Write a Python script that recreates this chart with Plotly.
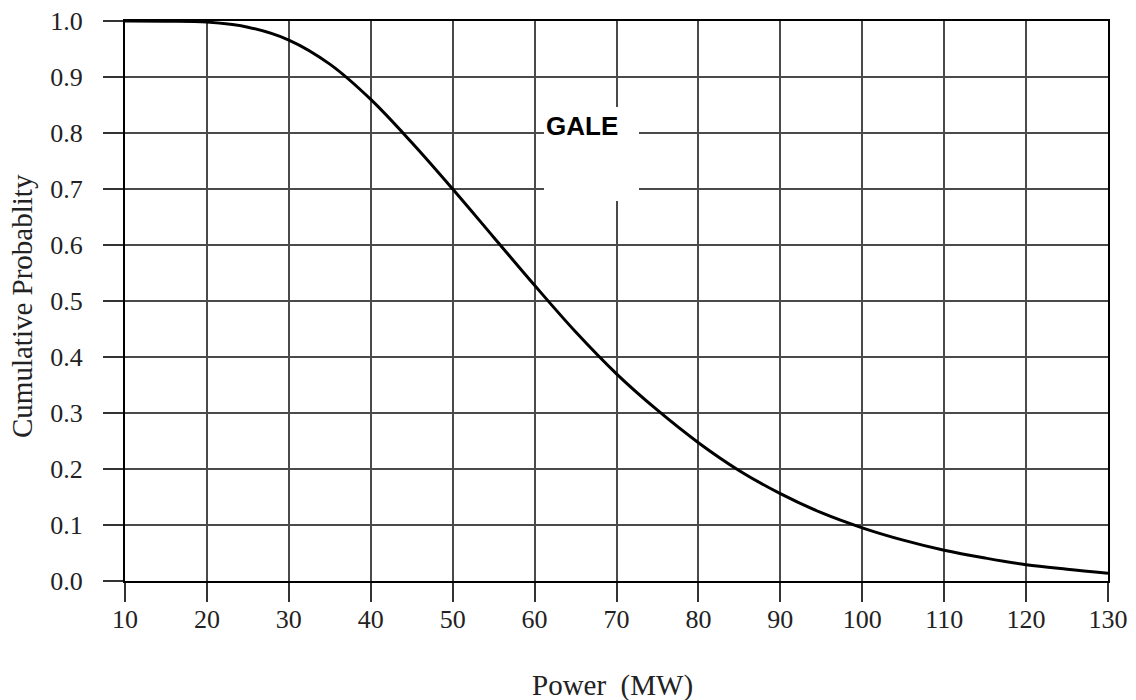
import plotly.graph_objects as go

power_mw = [10, 15, 20, 25, 30, 35, 40, 45, 50, 55, 60, 65, 70, 75, 80, 85, 90, 95, 100, 105, 110, 115, 120, 125, 130]
cum_prob = [1.0, 0.9997, 0.998, 0.989, 0.966, 0.923, 0.860, 0.783, 0.700, 0.614, 0.528, 0.445, 0.370, 0.305, 0.247, 0.197, 0.156, 0.122, 0.095, 0.073, 0.055, 0.041, 0.029, 0.021, 0.014]

x_ticks = list(range(10, 131, 10))
y_ticks = [round(i * 0.1, 1) for i in range(11)]
label_text = "GALE"

fig = go.Figure()
fig.add_trace(go.Scatter(x=power_mw, y=cum_prob, mode="lines",
                         line=dict(color="black", width=3, shape="spline", smoothing=1.0),
                         hoverinfo="skip", showlegend=False))

tick_font = dict(family="Liberation Serif, Times New Roman, serif", size=26, color="#222")
title_font = dict(family="Liberation Serif, Times New Roman, serif", size=29, color="#222")
fig.update_xaxes(range=[10, 130], tickvals=x_ticks, ticktext=[str(v) for v in x_ticks],
                 showgrid=True, gridcolor="#4a4a4a", gridwidth=1.5,
                 showline=True, linecolor="black", linewidth=2, mirror=True,
                 ticks="outside", ticklen=19, tickwidth=1.5, tickcolor="#333",
                 tickfont=tick_font, zeroline=False, ticklabelstandoff=-5, automargin=False)
fig.update_yaxes(range=[0, 1.0], tickvals=y_ticks, ticktext=[f"{v:.1f}" for v in y_ticks],
                 showgrid=True, gridcolor="#4a4a4a", gridwidth=1.5,
                 showline=True, linecolor="black", linewidth=2, mirror=True,
                 ticks="outside", ticklen=20, tickwidth=1.5, tickcolor="#333",
                 tickfont=tick_font, zeroline=False, ticklabelstandoff=15, automargin=False)

# white box behind label
fig.add_shape(type="rect", xref="paper", yref="paper",
              x0=(544 - 125) / 983, x1=(639 - 125) / 983,
              y0=(581 - 201) / 560, y1=(581 - 107) / 560,
              fillcolor="white", line=dict(width=0), layer="above")
fig.add_annotation(text="<b>" + label_text + "</b>", x=61.2, xref="x", y=0.813, yref="y",
                   xanchor="left", yanchor="middle", showarrow=False,
                   font=dict(family="Liberation Sans, Arial, sans-serif", size=26, color="black"))

fig.add_annotation(text="Power  (MW)", xref="paper", yref="paper",
                   x=(612 - 125) / 983, y=(581 - 685) / 560, xanchor="center", yanchor="middle",
                   showarrow=False, font=title_font)
fig.add_annotation(text="Cumulative Probablity", xref="paper", yref="paper",
                   x=(22 - 125) / 983, y=(581 - 306) / 560, xanchor="center", yanchor="middle",
                   textangle=-90, showarrow=False, font=title_font)

fig.update_layout(width=1136, height=700, margin=dict(l=125, r=28, t=21, b=119, autoexpand=False),
                  paper_bgcolor="white", plot_bgcolor="white")

fig.write_html("out.html")
